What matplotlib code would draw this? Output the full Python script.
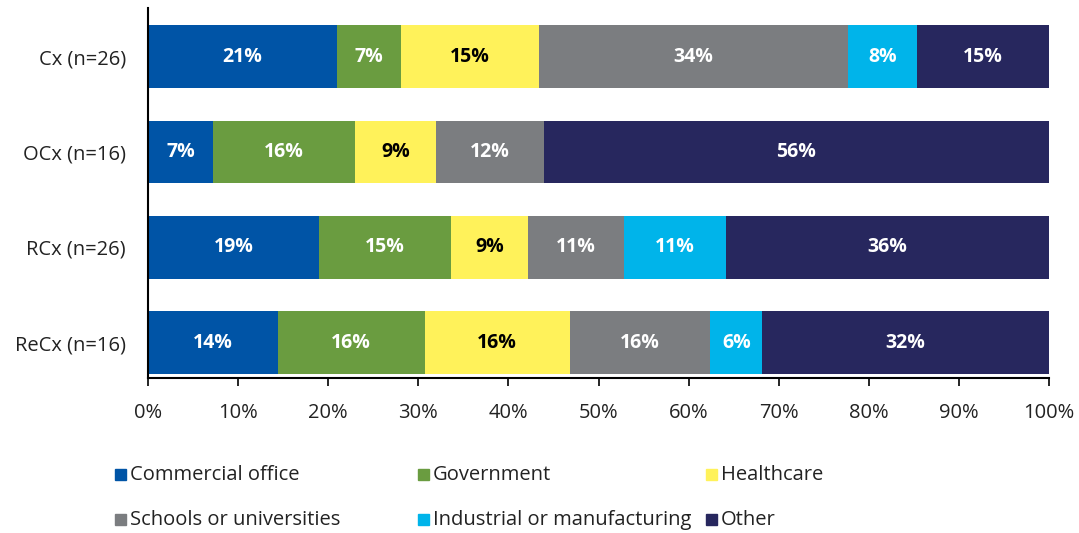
import matplotlib
matplotlib.use("Agg")
import matplotlib.pyplot as plt
from matplotlib.patches import Rectangle
import numpy as np

plt.rcParams['font.family'] = ['Open Sans', 'DejaVu Sans']

categories = ["Cx (n=26)", "OCx (n=16)", "RCx (n=26)", "ReCx (n=16)"]
series = ["Commercial office", "Government", "Healthcare",
          "Schools or universities", "Industrial or manufacturing", "Other"]
commercial = [21.0, 7.2, 19.0, 14.4]
government = [7.1, 15.8, 14.6, 16.3]
healthcare = [15.3, 9.0, 8.6, 16.1]
schools = [34.3, 11.9, 10.6, 15.6]
industrial = [7.7, 0.0, 11.3, 5.8]
other = [14.6, 56.1, 35.9, 31.8]
xticks = [0, 10, 20, 30, 40, 50, 60, 70, 80, 90, 100]

values = [commercial, government, healthcare, schools, industrial, other]
colors = ["#0054A6", "#6A9C40", "#FFF25A", "#7B7D80", "#00B4EA", "#27275E"]
text_colors = ["white", "white", "black", "white", "white", "white"]

fig = plt.figure(figsize=(10.79, 5.33), dpi=100)
ax = fig.add_axes([148/1079, 1-378/533, (1049-148)/1079, 370/533])

y = np.arange(len(categories))
left = np.zeros(len(categories))
for vals, col, tc in zip(values, colors, text_colors):
    vals = np.array(vals)
    ax.barh(y, vals, left=left, height=0.66, color=col, edgecolor='none')
    for yi, (l, v) in enumerate(zip(left, vals)):
        if v > 0:
            ax.text(l + v/2, yi, f"{round(v)}%", ha='center', va='center',
                    color=tc, fontsize=14, fontweight='bold')
    left += vals

ax.set_xlim(0, 100)
ax.set_ylim(3.37, -0.51)
ax.set_yticks(y)
ax.set_yticklabels(categories, fontsize=14.5, color='#222222')
ax.set_xticks(xticks)
ax.set_xticklabels([f"{t}%" for t in xticks], fontsize=14.5, color='#222222')
ax.tick_params(axis='y', length=0, pad=16)
ax.tick_params(axis='x', length=6, direction='out', pad=12, width=1.2)
for s in ['top', 'right']:
    ax.spines[s].set_visible(False)
ax.spines['left'].set_linewidth(1.5)
ax.spines['bottom'].set_linewidth(1.5)

# legend (manual, Excel-style placement)
leg_x = [115, 418, 706, 115, 418, 706]
leg_y = [475, 475, 475, 520, 520, 520]
for name, col, lx, ly in zip(series, colors, leg_x, leg_y):
    fig.patches.append(Rectangle((lx/1079, 1-(ly+5)/533), 11/1079, 11/533,
                                 transform=fig.transFigure, color=col))
    fig.text((lx+15)/1079, 1-ly/533, name, fontsize=14.5, va='center',
             ha='left', color='#222222')

fig.savefig("out.png", dpi=100)
